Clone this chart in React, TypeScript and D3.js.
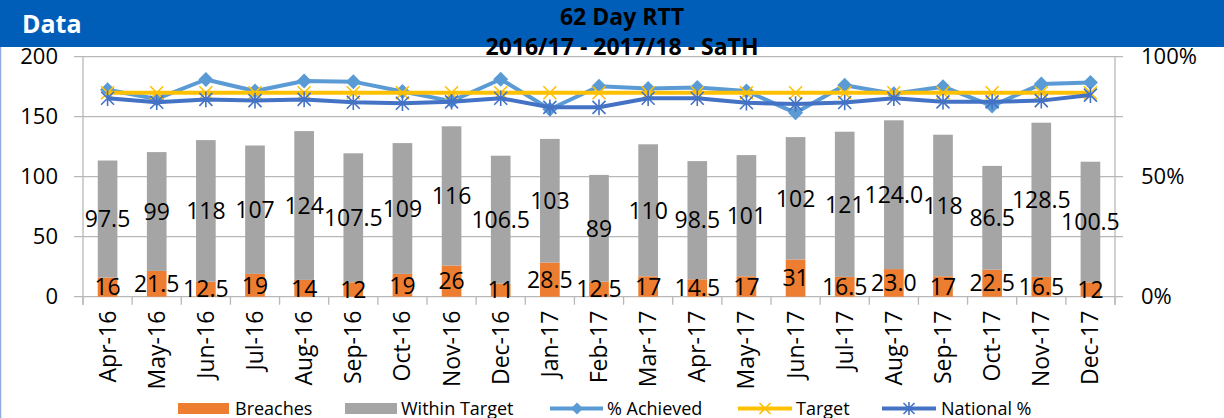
import React from "react";
import * as d3 from "d3";

const months = ["Apr-16","May-16","Jun-16","Jul-16","Aug-16","Sep-16","Oct-16","Nov-16","Dec-16","Jan-17","Feb-17","Mar-17","Apr-17","May-17","Jun-17","Jul-17","Aug-17","Sep-17","Oct-17","Nov-17","Dec-17"];
const breaches = [16,21.5,12.5,19,14,12,19,26,11,28.5,12.5,17,14.5,17,31,16.5,23.0,17,22.5,16.5,12];
const withinTarget = [97.5,99,118,107,124,107.5,109,116,106.5,103,89,110,98.5,101,102,121,124.0,118,86.5,128.5,100.5];
const achieved = [0.862,0.824,0.905,0.857,0.899,0.896,0.855,0.815,0.906,0.781,0.877,0.867,0.872,0.857,0.766,0.881,0.846,0.875,0.795,0.886,0.893];
const target = [0.85,0.85,0.85,0.85,0.85,0.85,0.85,0.85,0.85,0.85,0.85,0.85,0.85,0.85,0.85,0.85,0.85,0.85,0.85,0.85,0.85];
const national = [0.827,0.81,0.822,0.817,0.822,0.81,0.806,0.812,0.827,0.789,0.789,0.827,0.827,0.808,0.803,0.809,0.827,0.812,0.812,0.817,0.84];
const oneDecimalMonths = ["Aug-17"];
const leftTicks = [0,50,100,150,200];
const rightTicks = [0,0.5,1];

const FONT = "'Open Sans', 'Noto Sans', sans-serif";
const C_BREACH = "#ED7D31";
const C_WITHIN = "#A5A5A5";
const C_ACH = "#5B9BD5";
const C_TGT = "#FFC000";
const C_NAT = "#4472C4";
const C_GRID = "#B8B8B8";

function fmt(v: number, m: string) {
  return oneDecimalMonths.includes(m) ? v.toFixed(1) : String(v);
}

function Diamond({ x, y, r, fill }: { x: number; y: number; r: number; fill: string }) {
  return <path d={`M${x},${y - r}L${x + r},${y}L${x},${y + r}L${x - r},${y}Z`} fill={fill} />;
}
function XMark({ x, y, r, stroke }: { x: number; y: number; r: number; stroke: string }) {
  return <path d={`M${x - r},${y - r}L${x + r},${y + r}M${x - r},${y + r}L${x + r},${y - r}`} stroke={stroke} strokeWidth={1.6} fill="none" />;
}
function Star({ x, y, r, stroke }: { x: number; y: number; r: number; stroke: string }) {
  return <path d={`M${x - r},${y - r}L${x + r},${y + r}M${x - r},${y + r}L${x + r},${y - r}M${x},${y - r * 1.2}L${x},${y + r * 1.2}`} stroke={stroke} strokeWidth={1.6} fill="none" />;
}

export default function App() {
  const W = 1224, H = 418;
  const left = 83, right = 1115, top = 56.7, bottom = 296.7;
  const x = d3.scaleBand<string>().domain(months).range([left, right]).paddingInner(0.6).paddingOuter(0.3);
  const yL = d3.scaleLinear().domain([0, 200]).range([bottom, top]);
  const yR = d3.scaleLinear().domain([0, 1]).range([bottom, top]);
  const bw = x.bandwidth();
  const cx = (m: string) => (x(m) as number) + bw / 2;
  const step = x.step();
  const line = d3.line<number>().x((_, i) => cx(months[i])).y(d => yR(d));

  return (
    <div>
      <style>{"body{margin:0}"}</style>
      <svg width={W} height={H} style={{ display: "block", fontFamily: FONT }}>
        <rect x={0} y={0} width={W} height={H} fill="#fff" />
        <rect x={0} y={0} width={W} height={47} fill="#005EB8" />
        <line x1={0.5} x2={0.5} y1={47} y2={H} stroke="#8FAADC" strokeWidth={1.5} />
        <text x={22} y={33} fill="#fff" fontSize={25} fontWeight={700}>Data</text>
        <text x={622} y={25} textAnchor="middle" fontSize={23} fontWeight={700} fill="#000">62 Day RTT</text>
        <text x={622} y={55} textAnchor="middle" fontSize={23} fontWeight={700} fill="#000">2016/17 - 2017/18 - SaTH</text>

        {/* gridlines */}
        {leftTicks.map(t => (
          <line key={"g" + t} x1={left - 9} x2={right + 8} y1={yL(t)} y2={yL(t)} stroke={C_GRID} strokeWidth={1.3} />
        ))}
        <line x1={left} x2={left} y1={top} y2={bottom + 8} stroke={C_GRID} strokeWidth={1.3} />
        <line x1={right} x2={right} y1={top} y2={bottom + 8} stroke={C_GRID} strokeWidth={1.3} />
        {d3.range(months.length + 1).map(i => (
          <line key={"xt" + i} x1={left + i * step} x2={left + i * step} y1={bottom} y2={bottom + 8} stroke={C_GRID} strokeWidth={1.3} />
        ))}

        {/* left ticks */}
        {leftTicks.map(t => (
          <text key={"lt" + t} x={58} y={yL(t)} dy="0.35em" textAnchor="end" fontSize={22} fill="#000">{t}</text>
        ))}
        {rightTicks.map(t => (
          <text key={"rt" + t} x={1141} y={yR(t)} dy="0.35em" textAnchor="start" fontSize={22} fill="#000">{d3.format(".0%")(t)}</text>
        ))}

        {/* bars */}
        {months.map((m, i) => (
          <g key={"b" + m}>
            <rect x={x(m)} width={bw} y={yL(breaches[i])} height={yL(0) - yL(breaches[i])} fill={C_BREACH} />
            <rect x={x(m)} width={bw} y={yL(breaches[i] + withinTarget[i])} height={yL(breaches[i]) - yL(breaches[i] + withinTarget[i])} fill={C_WITHIN} />
          </g>
        ))}

        {/* bar labels */}
        {months.map((m, i) => (
          <g key={"l" + m} fontSize={23} fill="#000" textAnchor="middle">
            <text x={cx(m)} y={yL(breaches[i] / 2)} dy="0.36em">{fmt(breaches[i], m)}</text>
            <text x={cx(m)} y={yL(breaches[i] + withinTarget[i] / 2)} dy="0.36em">{fmt(withinTarget[i], m)}</text>
          </g>
        ))}

        {/* lines */}
        <path d={line(achieved) || ""} fill="none" stroke={C_ACH} strokeWidth={4} strokeLinejoin="round" />
        {months.map((m, i) => <Diamond key={"d" + m} x={cx(m)} y={yR(achieved[i])} r={7.5} fill={C_ACH} />)}
        <path d={line(target) || ""} fill="none" stroke={C_TGT} strokeWidth={4} />
        {months.map((m, i) => <XMark key={"x" + m} x={cx(m)} y={yR(target[i])} r={6.5} stroke={C_TGT} />)}
        <path d={line(national) || ""} fill="none" stroke={C_NAT} strokeWidth={4} strokeLinejoin="round" />
        {months.map((m, i) => <Star key={"s" + m} x={cx(m)} y={yR(national[i])} r={6.5} stroke={C_NAT} />)}

        {/* x labels */}
        {months.map(m => (
          <text key={"xl" + m} transform={`translate(${cx(m)},${bottom + 14}) rotate(-90)`} textAnchor="end" dy="0.35em" fontSize={23} fill="#000">{m}</text>
        ))}

        {/* legend */}
        <g fontSize={18} fill="#000">
          <rect x={178} y={403} width={51} height={11} fill={C_BREACH} />
          <text x={235} y={414.5}>Breaches</text>
          <rect x={345} y={403} width={52} height={11} fill={C_WITHIN} />
          <text x={401} y={414.5}>Within Target</text>
          <line x1={550} x2={603} y1={408.5} y2={408.5} stroke={C_ACH} strokeWidth={4} />
          <Diamond x={577} y={408.5} r={6} fill={C_ACH} />
          <text x={607} y={414.5}>% Achieved</text>
          <line x1={738} x2={792} y1={408.5} y2={408.5} stroke={C_TGT} strokeWidth={4} />
          <XMark x={765} y={408.5} r={5.5} stroke={C_TGT} />
          <text x={796} y={414.5}>Target</text>
          <line x1={882} x2={936} y1={408.5} y2={408.5} stroke={C_NAT} strokeWidth={4} />
          <Star x={909} y={408.5} r={5.5} stroke={C_NAT} />
          <text x={941} y={414.5}>National %</text>
        </g>
      </svg>
    </div>
  );
}
